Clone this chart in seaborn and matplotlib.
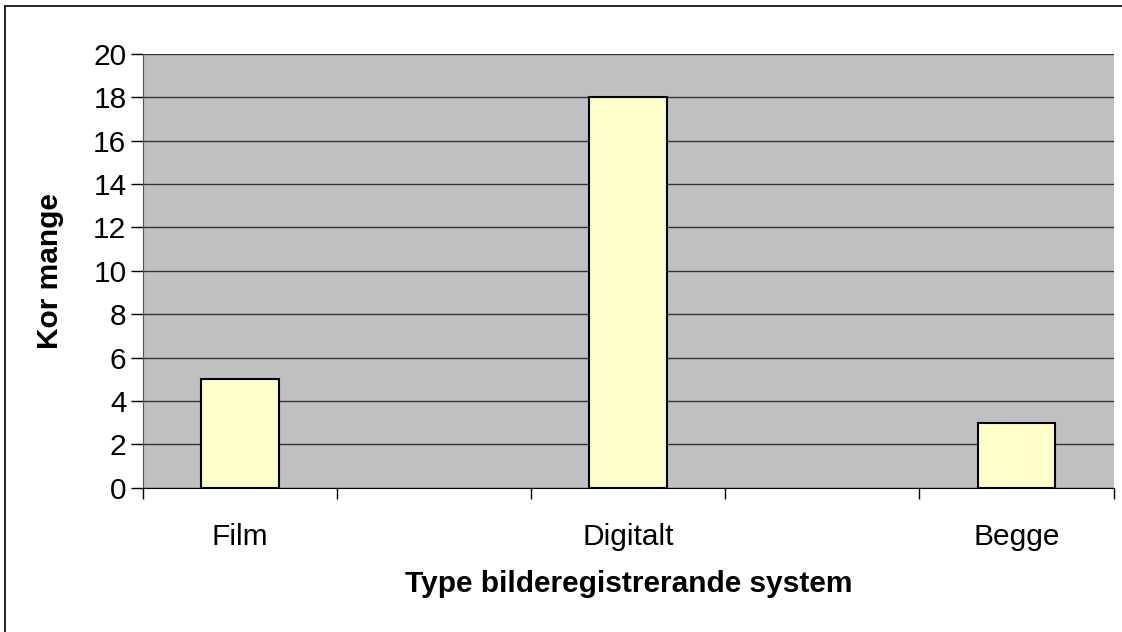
import pandas as pd
import matplotlib
matplotlib.use("Agg")
import matplotlib.pyplot as plt
import seaborn as sns
from matplotlib.ticker import FixedLocator, NullFormatter
from matplotlib.lines import Line2D

# data (two empty category slots between the bars)
categories = ["Film", "Digitalt", "Begge"]
counts = [5, 18, 3]
slot_order = ["Film", " ", "Digitalt", "  ", "Begge"]
y_ticks = list(range(0, 21, 2))

sns.set_style("white")
plt.rcParams["font.family"] = ["Liberation Sans", "DejaVu Sans"]
plt.rcParams["text.color"] = "black"
plt.rcParams["axes.labelcolor"] = "black"
plt.rcParams["xtick.color"] = "black"
plt.rcParams["ytick.color"] = "black"

df = pd.DataFrame({"kategori": categories, "antal": counts})

fig = plt.figure(figsize=(11.22, 6.32), dpi=100)
ax = fig.add_axes([0.1275, 0.228, 0.865, 0.687])

sns.barplot(data=df, x="kategori", y="antal", order=slot_order, ax=ax,
            color="#FFFFCC", edgecolor="black", linewidth=1.5, width=0.4,
            saturation=1, errorbar=None)

ax.set_facecolor("#C0C0C0")
ax.set_xlim(-0.5, 4.5)
ax.set_ylim(0, 20)
ax.set_yticks(y_ticks)
ax.yaxis.grid(True, color="#333333", linewidth=1)
ax.set_axisbelow(True)

# ticks at category boundaries, labels at category centres
ax.xaxis.set_major_locator(FixedLocator([-0.5, 0.5, 1.5, 2.5, 3.5, 4.5]))
ax.xaxis.set_major_formatter(NullFormatter())
ax.xaxis.set_minor_locator(FixedLocator(range(5)))
ax.set_xticklabels(slot_order, minor=True)
ax.tick_params(axis="x", which="major", direction="out", length=8, width=1, color="black", bottom=True)
ax.tick_params(axis="x", which="minor", length=0, pad=25, labelsize=21.5)
ax.tick_params(axis="y", direction="out", length=9, width=1, color="black", left=True, labelsize=21.5, pad=3)

for side in ["top", "right"]:
    ax.spines[side].set_visible(False)
ax.spines["left"].set_color("#555555")
ax.spines["bottom"].set_color("black")

ax.set_xlabel("Type bilderegistrerande system", fontsize=21.5, fontweight="bold")
ax.xaxis.set_label_coords(0.5, -0.19)
ax.set_ylabel("Kor mange", fontsize=21.5, fontweight="bold")
ax.yaxis.set_label_coords(-0.081, 0.5)

# border on the top and left edges of the chart area
fig.add_artist(Line2D([5 / 1122, 5 / 1122], [0, 1 - 6 / 632], transform=fig.transFigure, color="black", linewidth=1.2))
fig.add_artist(Line2D([5 / 1122, 1], [1 - 6 / 632, 1 - 6 / 632], transform=fig.transFigure, color="black", linewidth=1.2))

fig.savefig("out.png", dpi=100)
